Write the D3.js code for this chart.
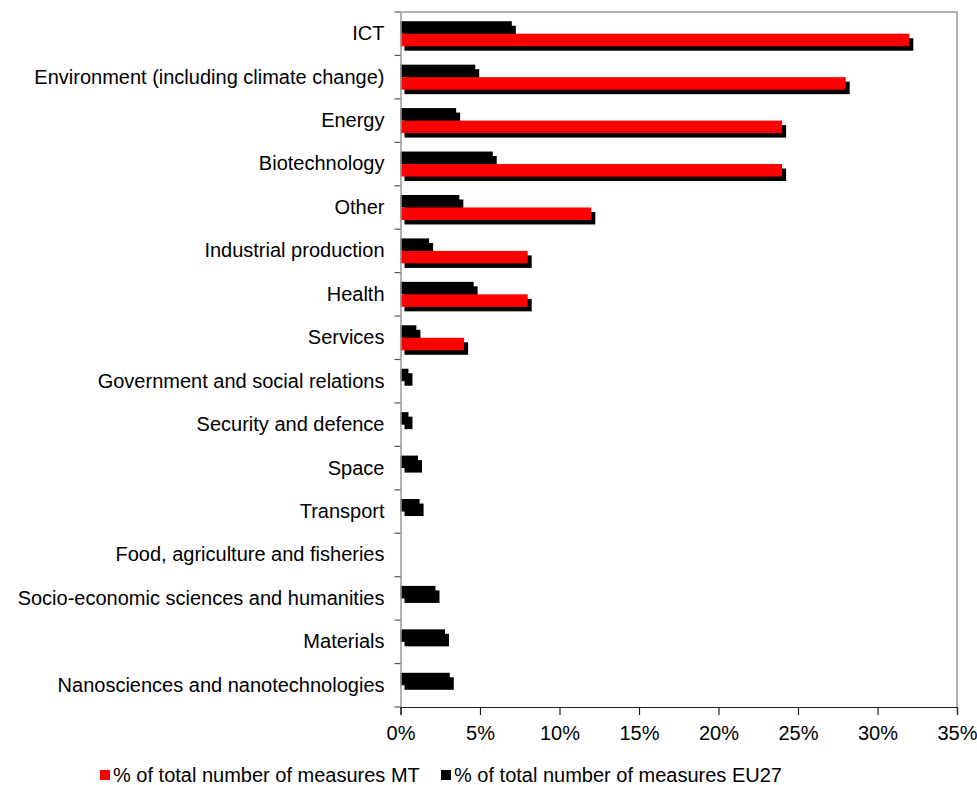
<!DOCTYPE html>
<html>
<head>
<meta charset="utf-8">
<script src="https://cdn.jsdelivr.net/npm/d3@7"></script>
<style>
  html, body { margin: 0; padding: 0; background: #fff; }
  svg { display: block; font-family: "Liberation Sans", Arial, sans-serif; }
</style>
</head>
<body>
<svg id="chart" width="977" height="785"></svg>
<script>
// Thematic areas, top to bottom
const categories = [
  "ICT",
  "Environment (including climate change)",
  "Energy",
  "Biotechnology",
  "Other",
  "Industrial production",
  "Health",
  "Services",
  "Government and social relations",
  "Security and defence",
  "Space",
  "Transport",
  "Food, agriculture and fisheries",
  "Socio-economic sciences and humanities",
  "Materials",
  "Nanosciences and nanotechnologies"
];
// Share of total number of measures (%)
const valuesMT   = [32, 28, 24, 24, 12, 8, 8, 4, 0, 0, 0, 0, 0, 0, 0, 0];
const valuesEU27 = [7.0, 4.7, 3.5, 5.8, 3.7, 1.8, 4.6, 1.0, 0.5, 0.5, 1.1, 1.2, 0, 2.2, 2.8, 3.1];
const xTicks = [0, 5, 10, 15, 20, 25, 30, 35];
const seriesNames = ["% of total number of measures MT", "% of total number of measures EU27"];
const seriesColors = ["#ff0000", "#000000"];

const svg = d3.select("#chart");
const plot = { left: 400.5, right: 957, top: 12, bottom: 707 };
const fontSize = 20;

const x = d3.scaleLinear().domain([0, 35]).range([plot.left, plot.right]);
const y = d3.scaleBand().domain(categories).range([plot.top, plot.bottom]);
const barH = 12.5;
const shadow = { dx: 4, dy: 4.5 };

const rows = categories.map((c, i) => ({ cat: c, mt: valuesMT[i], eu: valuesEU27[i] }));

// Plot area frame (top and right edges)
svg.append("path")
  .attr("d", `M${plot.left},${plot.top}H${plot.right}V${plot.bottom}`)
  .attr("fill", "none").attr("stroke", "#999").attr("stroke-width", 1.5);

// Bar geometry: EU27 above the band centre, MT below it
const bars = [];
rows.forEach(r => {
  const c = y(r.cat) + y.bandwidth() / 2;
  bars.push({ v: r.eu, y0: c - barH, color: seriesColors[1] });
  bars.push({ v: r.mt, y0: c, color: seriesColors[0] });
});
const drawn = bars.filter(b => b.v > 0);

// Drop shadows
svg.append("g").selectAll("rect").data(drawn).join("rect")
  .attr("x", x(0) + shadow.dx)
  .attr("y", d => d.y0 + shadow.dy)
  .attr("width", d => x(d.v) - x(0))
  .attr("height", barH)
  .attr("fill", "#000");

// Bars
svg.append("g").selectAll("rect").data(drawn).join("rect")
  .attr("x", x(0))
  .attr("y", d => d.y0)
  .attr("width", d => x(d.v) - x(0))
  .attr("height", barH)
  .attr("fill", d => d.color);

// Category axis
const yAxis = d3.axisLeft(y).tickSize(0).tickPadding(16);
const gy = svg.append("g").attr("transform", `translate(${plot.left},0)`).call(yAxis);
gy.select(".domain").attr("stroke", "#999").attr("stroke-width", 1.5);
gy.selectAll("text").attr("font-size", fontSize).attr("fill", "#000")
  .attr("font-family", '"Liberation Sans", Arial, sans-serif');
// boundary tick marks between categories
svg.append("g").selectAll("line").data(d3.range(categories.length + 1)).join("line")
  .attr("x1", plot.left - 6).attr("x2", plot.left)
  .attr("y1", i => plot.top + i * y.step())
  .attr("y2", i => plot.top + i * y.step())
  .attr("stroke", "#555").attr("stroke-width", 1.2);

// Value axis
const xAxis = d3.axisBottom(x).tickValues(xTicks).tickFormat(d => d + "%").tickSize(8).tickPadding(11);
const gx = svg.append("g").attr("transform", `translate(0,${plot.bottom})`).call(xAxis);
gx.select(".domain").attr("stroke", "#222").attr("stroke-width", 1.2);
gx.selectAll(".tick line").attr("stroke", "#222").attr("stroke-width", 1.2);
gx.selectAll("text").attr("font-size", fontSize).attr("fill", "#000")
  .attr("font-family", '"Liberation Sans", Arial, sans-serif');

// Legend
const legend = svg.append("g").attr("transform", "translate(100,775)");
const items = [{ name: seriesNames[0], color: seriesColors[0], x: 0 }, { name: seriesNames[1], color: seriesColors[1], x: 341 }];
const li = legend.selectAll("g").data(items).join("g").attr("transform", d => `translate(${d.x},0)`);
li.append("rect").attr("x", 0).attr("y", -5).attr("width", 10).attr("height", 10).attr("fill", d => d.color);
li.append("text").attr("x", 13).attr("y", 7).attr("font-size", fontSize).attr("fill", "#000").text(d => d.name);
</script>
</body>
</html>
